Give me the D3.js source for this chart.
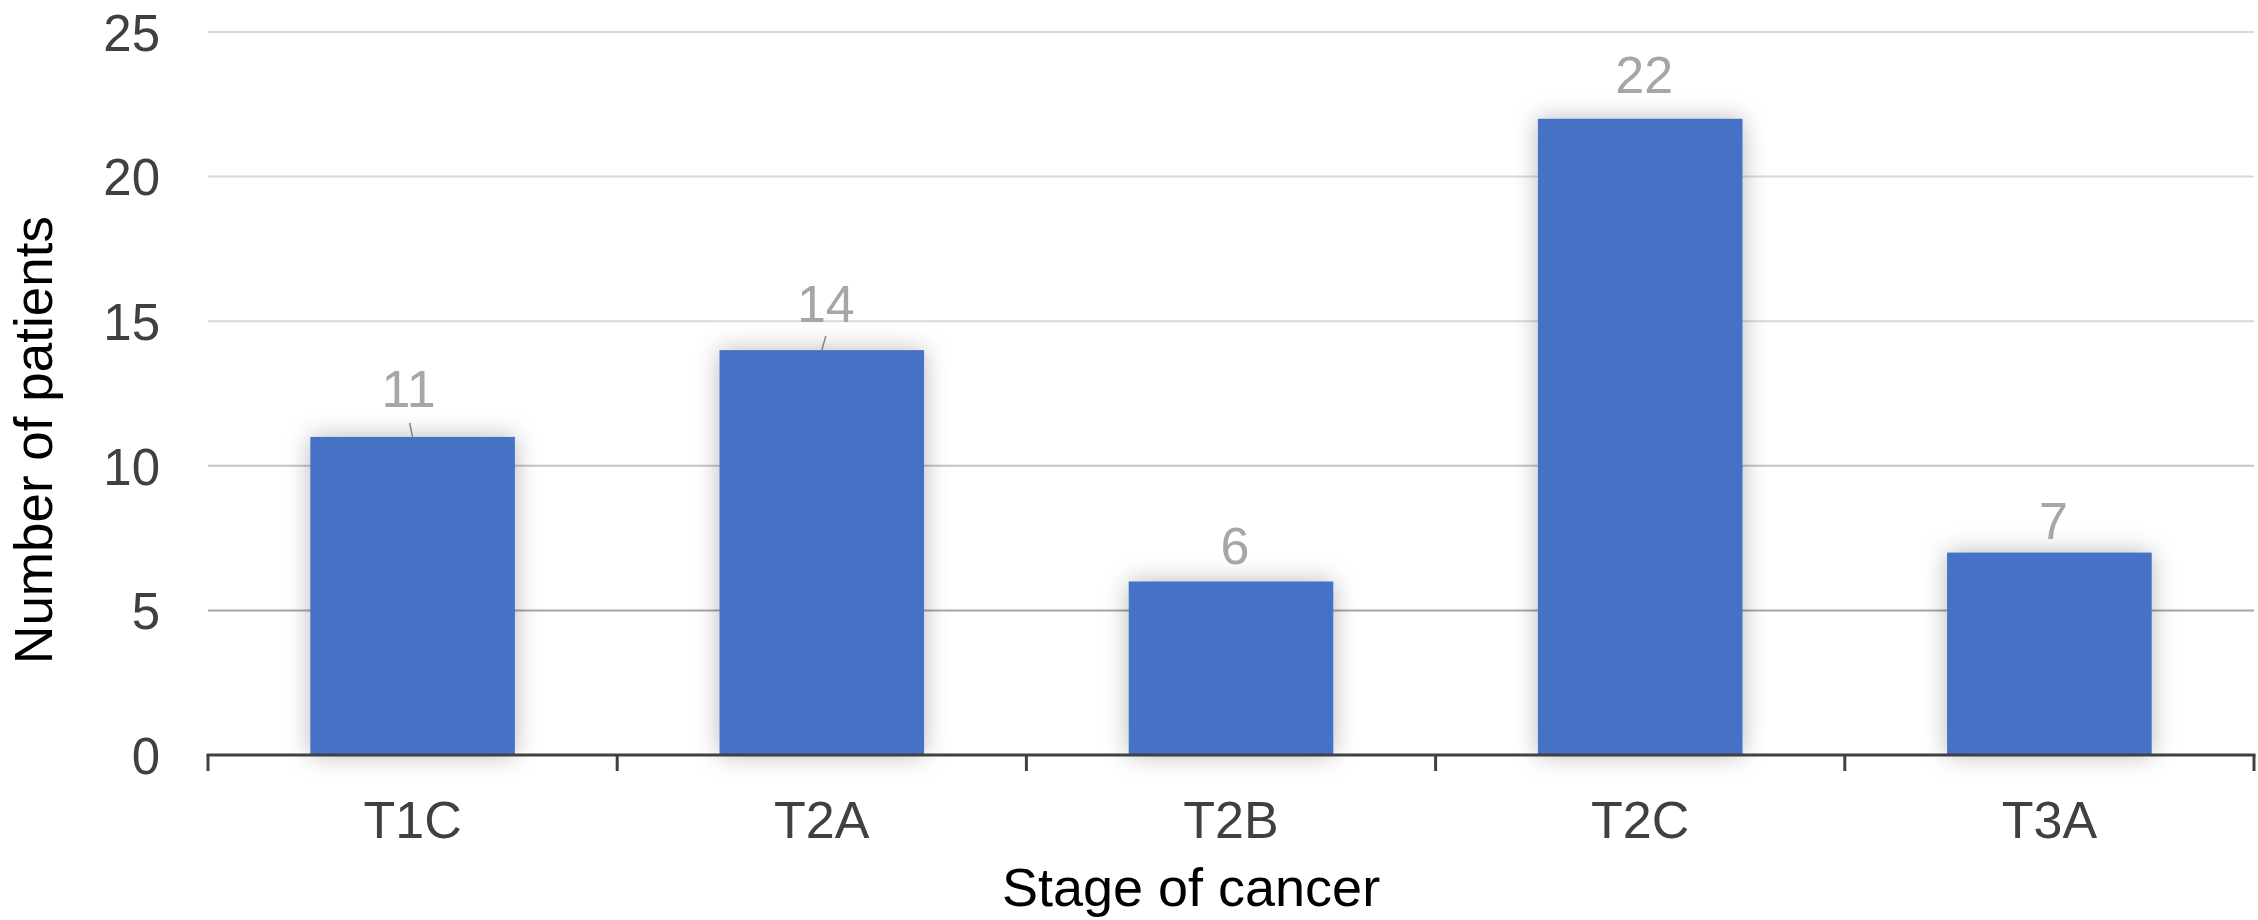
<!DOCTYPE html>
<html>
<head>
<meta charset="utf-8">
<script src="https://cdn.jsdelivr.net/npm/d3@7"></script>
<style>
  html, body { margin: 0; padding: 0; background: #fff; }
  svg { display: block; font-family: "Liberation Sans", Arial, sans-serif; }
</style>
</head>
<body>
<svg id="chart" width="2258" height="920"></svg>
<script>
// Patients by tumour stage
const categories = ["T1C", "T2A", "T2B", "T2C", "T3A"];
const patients = [11, 14, 6, 22, 7];
const yTicks = [0, 5, 10, 15, 20, 25];

const xTitle = "Stage of cancer";
const yTitle = "Number of patients";

// Layout
const W = 2258, H = 920;
const plot = { left: 208, right: 2254, top: 32, bottom: 755 };
// Gap between a bar top and its value label baseline
const labelGap = { T1C: 30, T2A: 28, T2B: 17, T2C: 26, T3A: 14 };
const leaderCats = ["T1C", "T2A"];

const svg = d3.select("#chart");

const defs = svg.append("defs");
const glow = defs.append("filter")
  .attr("id", "barShadow")
  .attr("x", "-40%").attr("y", "-20%")
  .attr("width", "180%").attr("height", "140%");
glow.append("feDropShadow")
  .attr("dx", 0).attr("dy", 0)
  .attr("stdDeviation", 12)
  .attr("flood-color", "#000")
  .attr("flood-opacity", 0.28);

const x = d3.scaleBand()
  .domain(categories)
  .range([plot.left, plot.right])
  .paddingInner(0.5)
  .paddingOuter(0.25);

const xBand = d3.scaleBand()
  .domain(categories)
  .range([plot.left, plot.right])
  .padding(0);

const y = d3.scaleLinear()
  .domain([0, 25])
  .range([plot.bottom, plot.top]);

// Horizontal gridlines
const gridColor = v => v === 5 ? "#a6a6a6" : (v === 10 ? "#c4c4c4" : "#d9d9d9");
svg.append("g")
  .selectAll("line")
  .data(yTicks.filter(v => v > 0))
  .join("line")
  .attr("x1", plot.left)
  .attr("x2", plot.right)
  .attr("y1", d => y(d))
  .attr("y2", d => y(d))
  .attr("stroke", d => gridColor(d))
  .attr("stroke-width", 2);

// Y axis tick labels
const yAxis = d3.axisLeft(y).tickValues(yTicks).tickSize(0).tickPadding(0);
const gy = svg.append("g")
  .attr("transform", `translate(160,0)`)
  .call(yAxis);
gy.select(".domain").remove();
gy.selectAll("text")
  .attr("font-size", 51)
  .attr("fill", "#404040")
  .attr("font-family", "Liberation Sans, Arial, sans-serif")
  .attr("dy", "0.36em")
  .attr("x", 0);

// Bars
svg.append("g")
  .selectAll("rect")
  .data(categories)
  .join("rect")
  .attr("x", (d) => x(d))
  .attr("width", x.bandwidth())
  .attr("y", (d, i) => y(patients[i]))
  .attr("height", (d, i) => y(0) - y(patients[i]))
  .attr("fill", "#4472c4")
  .attr("filter", "url(#barShadow)");

// X axis line with category boundary ticks
const gx = svg.append("g")
  .attr("transform", `translate(0,${plot.bottom})`);
const boundaries = categories.map(c => xBand(c)).concat([plot.right]);
gx.append("line")
  .attr("x1", plot.left - 1.5).attr("x2", plot.right + 1.5)
  .attr("y1", 0).attr("y2", 0)
  .attr("stroke", "#404040").attr("stroke-width", 3);
gx.selectAll("line.tick")
  .data(boundaries)
  .join("line")
  .attr("class", "tick")
  .attr("x1", d => d).attr("x2", d => d)
  .attr("y1", 0).attr("y2", 16)
  .attr("stroke", "#404040").attr("stroke-width", 3);
gx.selectAll("text")
  .data(categories)
  .join("text")
  .attr("x", d => xBand(d) + xBand.bandwidth() / 2)
  .attr("y", 83)
  .attr("text-anchor", "middle")
  .attr("font-size", 52)
  .attr("fill", "#404040")
  .text(d => d);

// Value labels and leader lines
const labels = svg.append("g");
categories.forEach((c, i) => {
  const cx = x(c) + x.bandwidth() / 2;
  const top = y(patients[i]);
  const base = top - labelGap[c];
  if (leaderCats.includes(c)) {
    labels.append("line")
      .attr("x1", cx).attr("y1", top)
      .attr("x2", cx + (i === 0 ? -3 : 4)).attr("y2", top - 14)
      .attr("stroke", "#7f7f7f").attr("stroke-width", 1.5);
  }
  labels.append("text")
    .attr("x", cx + (i === 0 ? -4 : 4))
    .attr("y", base)
    .attr("text-anchor", "middle")
    .attr("font-size", 52)
    .attr("fill", "#a6a6a6")
    .text(patients[i]);
});

// Axis titles
svg.append("text")
  .attr("x", 1191)
  .attr("y", 906)
  .attr("text-anchor", "middle")
  .attr("font-size", 54)
  .attr("fill", "#000")
  .text(xTitle);

svg.append("text")
  .attr("transform", `translate(52,440) rotate(-90)`)
  .attr("text-anchor", "middle")
  .attr("font-size", 53)
  .attr("fill", "#000")
  .text(yTitle);
</script>
</body>
</html>
